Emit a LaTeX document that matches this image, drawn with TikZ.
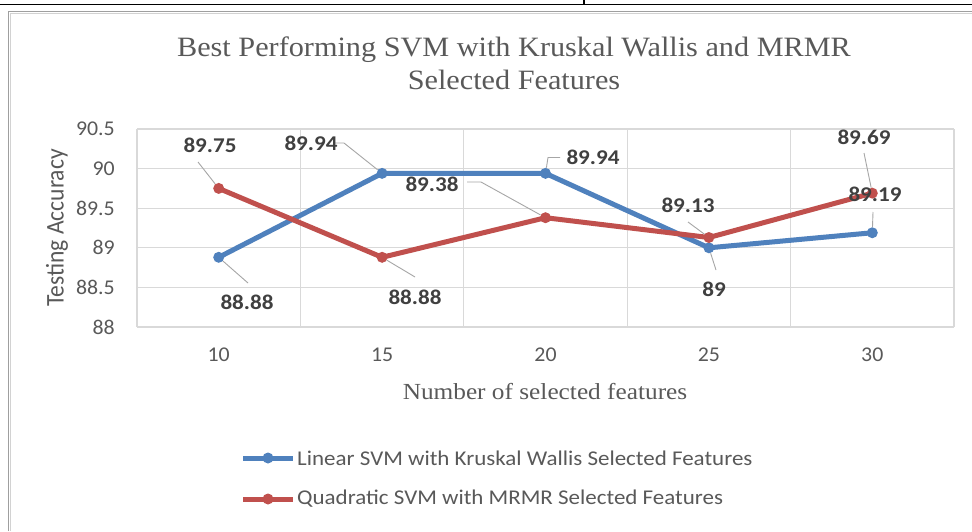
\documentclass[tikz,border=0pt]{standalone}
\usepackage{fontspec}
\setmainfont{Liberation Serif}
\newfontfamily\calibri{Carlito}
\definecolor{seriesblue}{HTML}{4F81BD}
\definecolor{seriesred}{HTML}{C0504D}
\definecolor{gridgray}{HTML}{D9D9D9}
\definecolor{ticktext}{HTML}{595959}
\definecolor{labeltext}{HTML}{404040}
\definecolor{leadergray}{HTML}{A6A6A6}
\tikzset{
  gridline/.style={draw=gridgray, line width=1.3pt},
  series/.style={line width=5pt, line join=round, line cap=round},
  marker/.style={circle, inner sep=0pt, minimum size=11pt},
  ticklabel/.style={font=\calibri\fontsize{21}{25}\selectfont, text=ticktext, inner sep=0pt, xscale=1.04},
  datalabel/.style={font=\calibri\bfseries\fontsize{21}{25}\selectfont, text=labeltext, inner sep=0pt, xscale=1.1},
  legendtext/.style={font=\calibri\fontsize{21}{25}\selectfont, text=ticktext, inner sep=0pt, xscale=1.094, anchor=west},
  leader/.style={draw=leadergray, line width=0.9pt},
  serifbig/.style={font=\fontsize{28}{33}\selectfont, text=ticktext, align=center, xscale=1.08},
}
\begin{document}
\begin{tikzpicture}[x=1pt,y=-1pt]
\useasboundingbox (0,0) rectangle (972,531);
\fill[white] (0,0) rectangle (972,531);

% page rule above the chart
\draw[black, line width=1.6pt] (0,4.5) -- (972,4.5);
\draw[black, line width=1.4pt] (584,0) -- (584,4.5);

% chart frame (gray with soft inner edge)
\draw[gray!75, line width=1.6pt] (8.5,531) -- (8.5,11.5) -- (972,11.5);
\draw[gray!35, line width=1.2pt] (10.5,531) -- (10.5,13.3) -- (972,13.3);

% title
\node[serifbig] (title) at (514,63) {Best Performing SVM with Kruskal Wallis and MRMR\\Selected Features};

% plot area grid
\foreach \k in {0,...,5} {
  \draw[gridline] (137,{129+\k*39.6}) -- (954,{129+\k*39.6});
  \draw[gridline] ({137+\k*163.4},129) -- ({137+\k*163.4},327);
}

% y tick labels
\foreach \v/\t [count=\i] in {88/88, 88.5/88.5, 89/89, 89.5/89.5, 90/90, 90.5/90.5} {
  \node[ticklabel, anchor=east] (ytick\i) at (115,{327-(\v-88)*79.2}) {\t};
}
% x tick labels
\foreach \c/\t [count=\i] in {0/10,1/15,2/20,3/25,4/30} {
  \node[ticklabel] (xtick\i) at ({218.7+\c*163.4},355) {\t};
}

% axis titles
\node[ticklabel, rotate=90, xscale=1/1.04, font=\calibri\fontsize{24.5}{28}\selectfont] (ytitle) at (57,228) {Testing Accuracy};
\node[font=\fontsize{23}{27}\selectfont, text=ticktext, inner sep=0pt, xscale=1.1] (xtitle) at (545,392) {Number of selected features};

% data points
\foreach \v [count=\i] in {88.88, 89.94, 89.94, 89, 89.19} {
  \coordinate (b\i) at ({218.7+(\i-1)*163.4},{327-(\v-88)*79.2});
}
\foreach \v [count=\i] in {89.75, 88.88, 89.38, 89.13, 89.69} {
  \coordinate (r\i) at ({218.7+(\i-1)*163.4},{327-(\v-88)*79.2});
}

% series lines
\draw[series, seriesblue] (b1) -- (b2) -- (b3) -- (b4) -- (b5);
\draw[series, seriesred] (r1) -- (r2) -- (r3) -- (r4) -- (r5);
\foreach \i in {1,...,5} {
  \node[marker, fill=seriesblue] (bm\i) at (b\i) {};
  \node[marker, fill=seriesred] (rm\i) at (r\i) {};
}

% leader line ends next to the labels
\coordinate (lr1) at (198,162);
\coordinate (lb1) at (248,283);
\coordinate (lb2a) at (333,143);
\coordinate (lb2b) at (344,143);
\coordinate (lr2) at (415,277);
\coordinate (lb3a) at (560,157.5);
\coordinate (lb3b) at (548,157.5);
\coordinate (lr3a) at (467,182);
\coordinate (lr3b) at (481,182);
\coordinate (lr4) at (688,222);
\coordinate (lb4) at (716,270);
\coordinate (lr5) at (864,153);
\coordinate (lb5) at (873,212);

% leader lines
\draw[leader] (lr1) -- (rm1);
\draw[leader] (lb1) -- (bm1);
\draw[leader] (lb2a) -- (lb2b) -- (bm2);
\draw[leader] (lr2) -- (rm2);
\draw[leader] (lb3a) -- (lb3b) -- (bm3);
\draw[leader] (lr3a) -- (lr3b) -- (rm3);
\draw[leader] (lr4) -- (rm4);
\draw[leader] (lb4) -- (bm4);
\draw[leader] (lr5) -- (rm5);
\draw[leader] (lb5) -- (bm5);

% data labels
\node[datalabel] (labr1) at (210,145) {89.75};
\node[datalabel] (labb1) at (247,302) {88.88};
\node[datalabel] (labb2) at (311,143) {89.94};
\node[datalabel] (labr2) at (415,297) {88.88};
\node[datalabel] (labb3) at (593,157) {89.94};
\node[datalabel] (labr3) at (432,184) {89.38};
\node[datalabel] (labr4) at (688,205) {89.13};
\node[datalabel] (labb4) at (714,289) {89};
\node[datalabel] (labr5) at (864,137) {89.69};
\node[datalabel] (labb5) at (875,194) {89.19};

% legend
\coordinate (lga) at (243,458);
\coordinate (lgb) at (293,458);
\coordinate (lgc) at (243,499);
\coordinate (lgd) at (293,499);
\draw[series, seriesblue, line cap=butt] (lga) -- (lgb);
\node[marker, fill=seriesblue] (lgbm) at (268,458) {};
\node[legendtext] (lgbt) at (297,458) {Linear SVM with Kruskal Wallis Selected Features};
\draw[series, seriesred, line cap=butt] (lgc) -- (lgd);
\node[marker, fill=seriesred] (lgrm) at (268,499) {};
\node[legendtext] (lgrt) at (297,499) {Quadratic SVM with MRMR Selected Features};
\end{tikzpicture}
\end{document}
